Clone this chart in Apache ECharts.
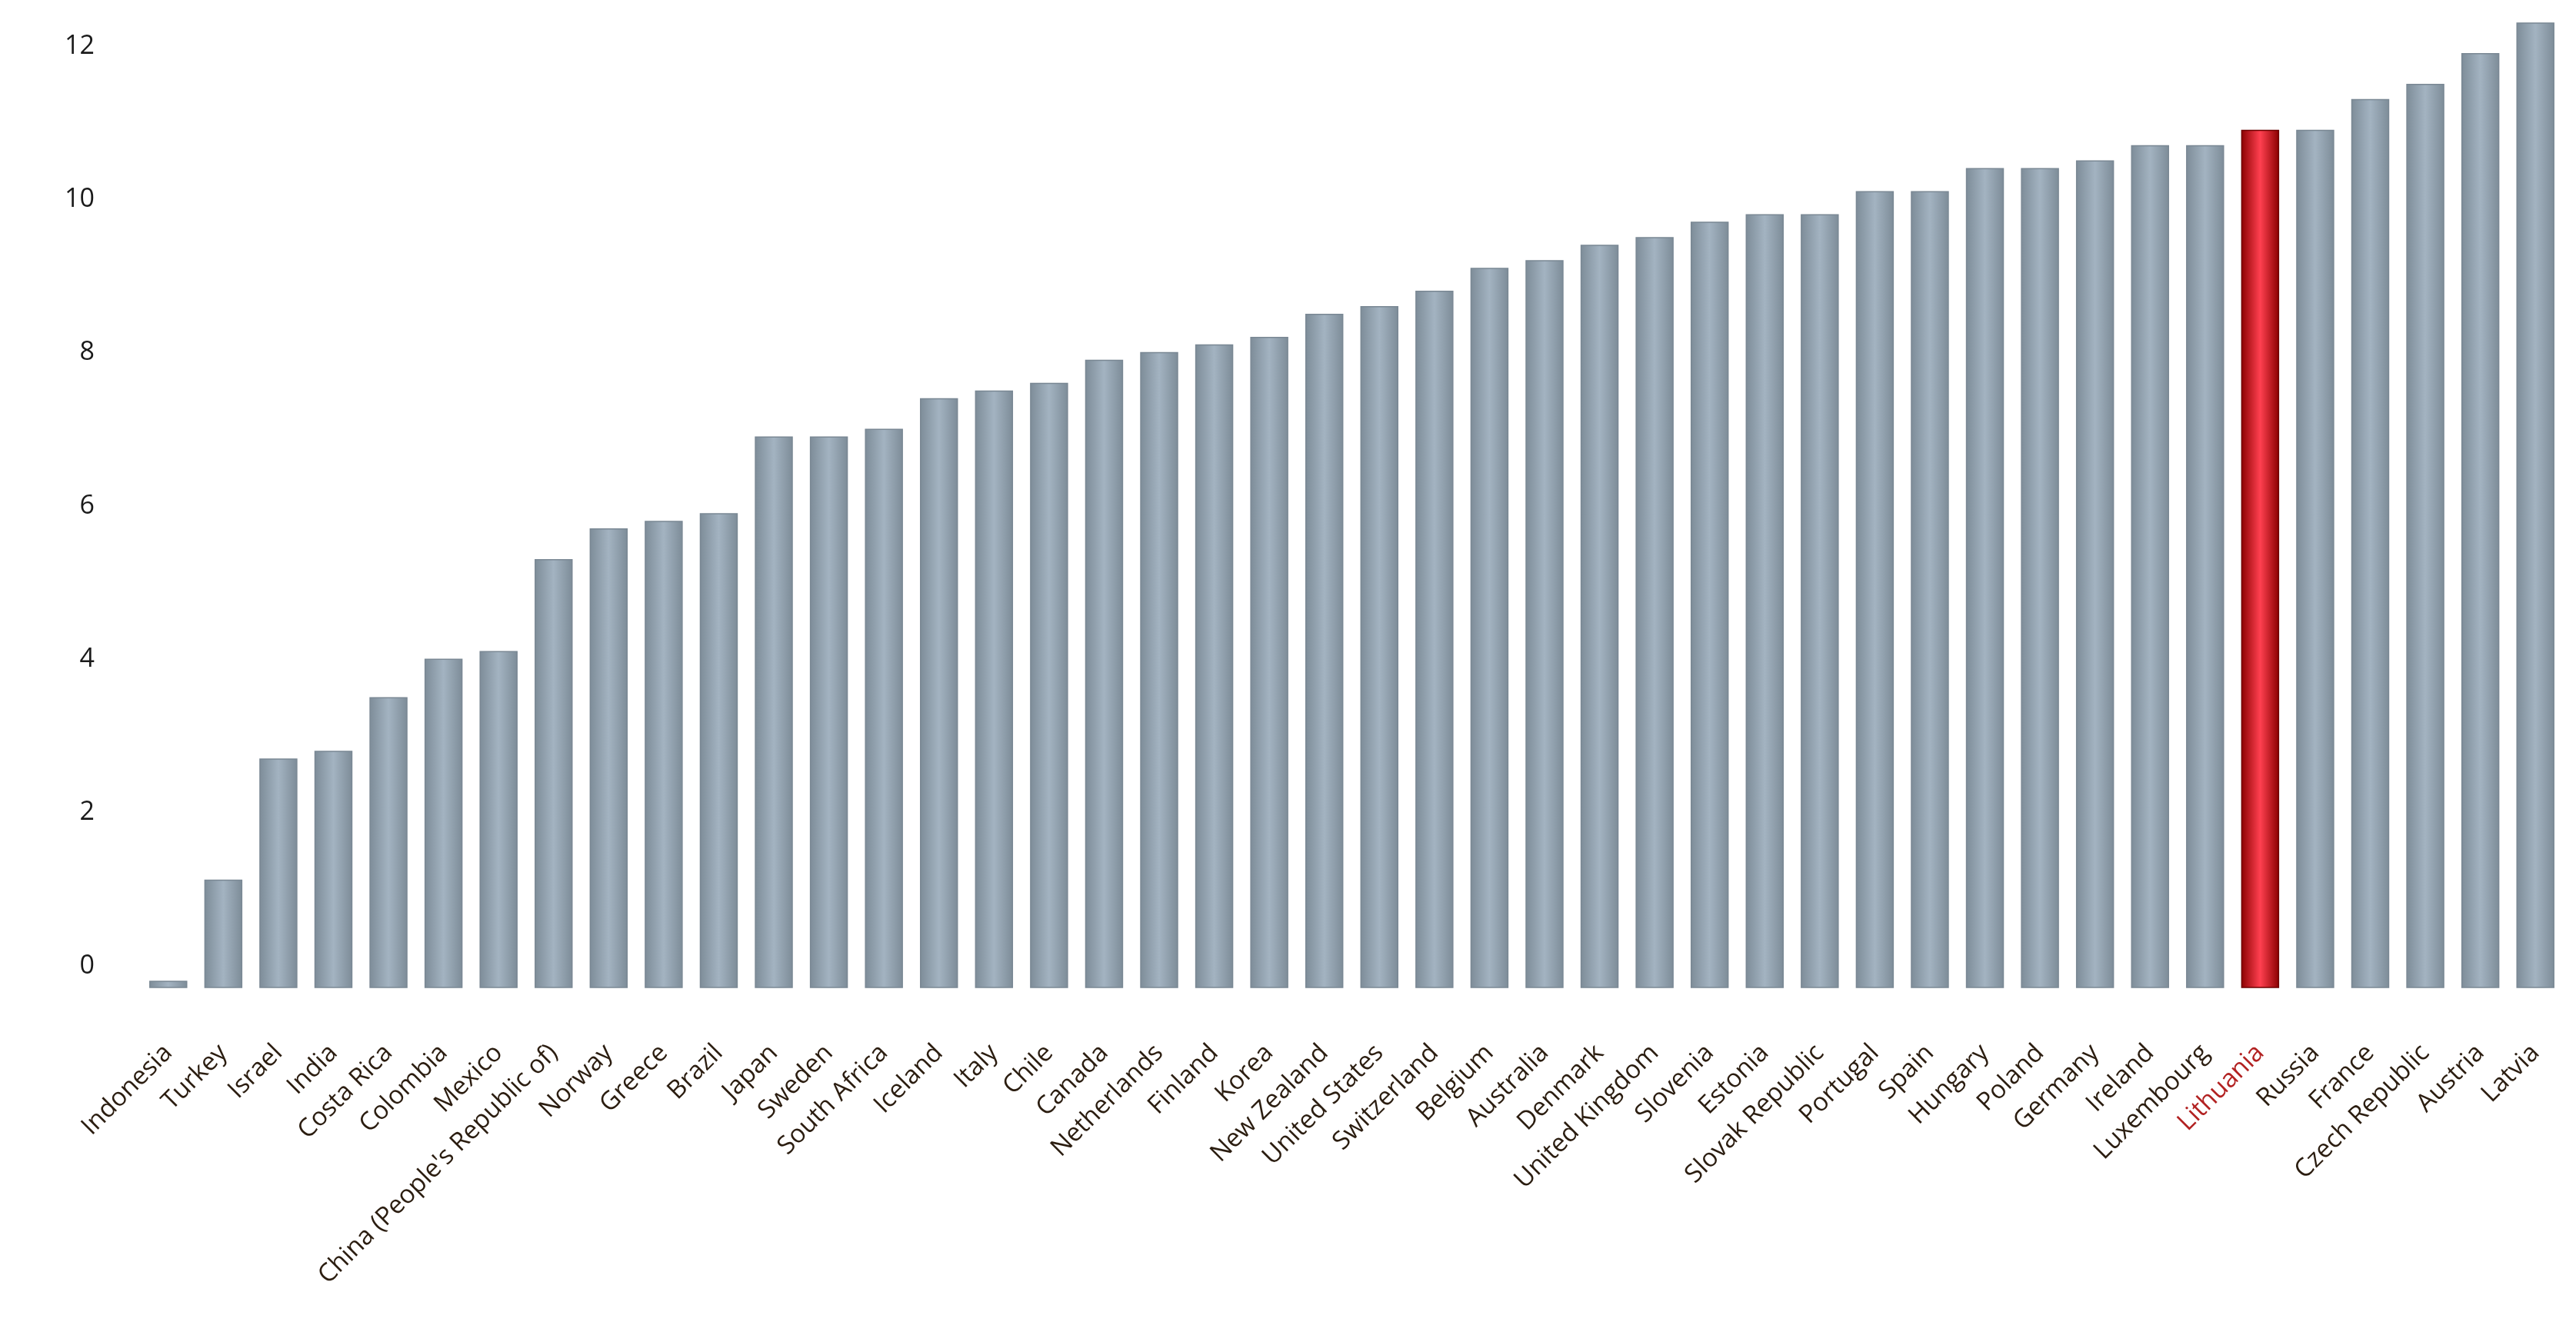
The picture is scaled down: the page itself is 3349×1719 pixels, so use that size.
<!DOCTYPE html>
<html><head><meta charset="utf-8">
<script src="https://cdn.jsdelivr.net/npm/echarts@6/dist/echarts.min.js"></script>
<style>html,body{margin:0;padding:0;background:#fff}#c{width:3349px;height:1719px}</style>
</head><body><div id="c"></div>
<script>
const categories = ["Indonesia","Turkey","Israel","India","Costa Rica","Colombia","Mexico","China (People's Republic of)","Norway","Greece","Brazil","Japan","Sweden","South Africa","Iceland","Italy","Chile","Canada","Netherlands","Finland","Korea","New Zealand","United States","Switzerland","Belgium","Australia","Denmark","United Kingdom","Slovenia","Estonia","Slovak Republic","Portugal","Spain","Hungary","Poland","Germany","Ireland","Luxembourg","Lithuania","Russia","France","Czech Republic","Austria","Latvia"];
const values = [-0.2,1.12,2.7,2.8,3.5,4.0,4.1,5.3,5.7,5.8,5.9,6.9,6.9,7.0,7.4,7.5,7.6,7.9,8.0,8.1,8.2,8.5,8.6,8.8,9.1,9.2,9.4,9.5,9.7,9.8,9.8,10.1,10.1,10.4,10.4,10.5,10.7,10.7,10.9,10.9,11.3,11.5,11.9,12.3];
const yTicks = [0,2,4,6,8,10,12];
const highlight = "Lithuania";
const axisMin = -0.28, axisMax = 12.6;

const chart = echarts.init(document.getElementById('c'));
const grey = new echarts.graphic.LinearGradient(0,0,1,0,[{offset:0,color:'#7d8c98'},{offset:0.5,color:'#a3b3c1'},{offset:1,color:'#7d8c98'}]);
const red = new echarts.graphic.LinearGradient(0,0,1,0,[{offset:0,color:'#8a0000'},{offset:0.5,color:'#ff4050'},{offset:1,color:'#8a0000'}]);
chart.setOption({
  animation:false,
  grid:{left:183,right:17,top:0,bottom:1719-1284},
  xAxis:{type:'category',data:categories,axisLine:{show:false},axisTick:{show:false},
    axisLabel:{rotate:45,margin:80,interval:0,fontSize:33,fontFamily:'Open Sans',
      color:(v)=>v===highlight?'#b22222':'#2b1d10'}},
  yAxis:{type:'value',min:axisMin,max:axisMax,splitLine:{show:false},axisLine:{show:false},axisTick:{show:false},
    axisLabel:{customValues:yTicks,fontSize:34,fontFamily:'Open Sans',color:'#1a1a1a',margin:60}},
  series:[{type:'custom',data:values.map((v,i)=>[i,v]),encode:{x:0,y:1},
    renderItem:(params,api)=>{
      const i=api.value(0), v=api.value(1);
      const top=api.coord([i,v]), bot=api.coord([i,axisMin]);
      const w=api.size([1,0])[0]*0.67;
      return {type:'rect',shape:{x:top[0]-w/2,y:top[1],width:w,height:bot[1]-top[1]},
        style:{fill:categories[i]===highlight?red:grey,stroke:categories[i]===highlight?'#6e0000':'#7a8894',lineWidth:1.5}};
    }}]
});
</script></body></html>
